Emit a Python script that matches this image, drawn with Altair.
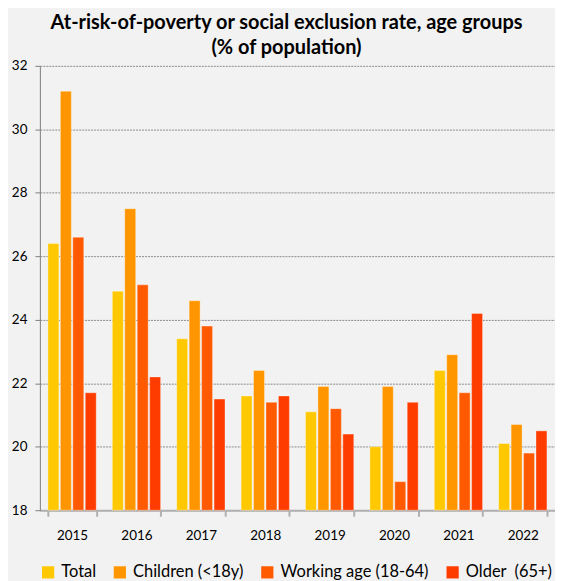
import altair as alt
import pandas as pd

years = ["2015", "2016", "2017", "2018", "2019", "2020", "2021", "2022"]
groups = ["Total", "Children (<18y)", "Working age (18-64)", "Older\u00a0\u00a0(65+)"]
total = [26.4, 24.9, 23.4, 21.6, 21.1, 20.0, 22.4, 20.1]
children = [31.2, 27.5, 24.6, 22.4, 21.9, 21.9, 22.9, 20.7]
working = [26.6, 25.1, 23.8, 21.4, 21.2, 18.9, 21.7, 19.8]
older = [21.7, 22.2, 21.5, 21.6, 20.4, 21.4, 24.2, 20.5]
colors = ["#ffc800", "#ff9600", "#ff5a00", "#ff3c00"]

rows = []
for g, vals in zip(groups, [total, children, working, older]):
    for y, v in zip(years, vals):
        rows.append({"year": y, "group": g, "value": v})
df = pd.DataFrame(rows)

FONT = "Lato"

bars = alt.Chart(df).mark_bar(
    stroke="white", strokeOpacity=0.35, strokeWidth=1
).encode(
    x=alt.X("year:N", sort=years, title=None,
            scale=alt.Scale(paddingInner=0.25, paddingOuter=0.125),
            axis=alt.Axis(labelAngle=0, tickBand="extent", domainColor="#b0b0b0",
                          domainWidth=2, tickColor="#b0b0b0", tickWidth=2, tickSize=6,
                          labelFontSize=13.5, labelColor="#000", labelFont=FONT,
                          labelPadding=12, grid=False)),
    xOffset=alt.XOffset("group:N", sort=groups,
                        scale=alt.Scale(paddingInner=0.12, paddingOuter=0)),
    y=alt.Y("value:Q", title=None,
            scale=alt.Scale(domain=[18, 32], zero=False, nice=False),
            axis=alt.Axis(values=[18, 20, 22, 24, 26, 28, 30, 32], grid=True,
                          gridColor="#8c8c8c", gridDash=[2, 1], gridWidth=1,
                          domainColor="#808080", tickColor="#808080", tickSize=5,
                          labelFontSize=13.5, labelColor="#000", labelFont=FONT,
                          labelPadding=8)),
    y2=alt.datum(18),
    color=alt.Color("group:N", sort=groups,
                    scale=alt.Scale(domain=groups, range=colors),
                    legend=alt.Legend(orient="none", direction="horizontal",
                                      legendX=0, legendY=500, title=None,
                                      symbolType="square", symbolSize=150,
                                      symbolStrokeWidth=0, labelFontSize=16.5,
                                      labelFont=FONT, labelColor="#000",
                                      columnPadding=15, labelOffset=5)),
)

chart = bars.properties(
    width=517, height=446,
    autosize=alt.AutoSizeParams(type="none"),
    padding={"left": 32, "top": 57, "right": 0, "bottom": 72},
    background="#f2f2f2",
    title=alt.TitleParams(
        text=["At-risk-of-poverty or social exclusion rate, age groups", "(% of population)"],
        font=FONT, fontSize=20, fontWeight="bold", color="#000",
        anchor="middle", dx=-11, offset=1, lineHeight=25,
    ),
).configure_view(stroke=None)

chart.save("out.html", embed_options={"renderer": "svg", "actions": False})
